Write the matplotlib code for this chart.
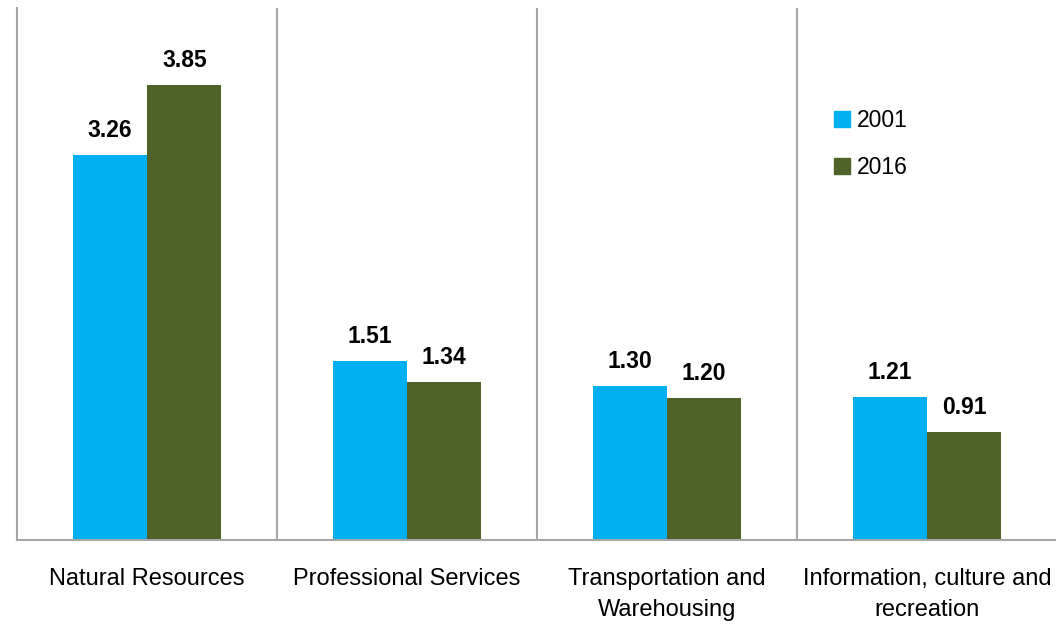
import matplotlib
matplotlib.use("Agg")
import matplotlib.pyplot as plt
from matplotlib.patches import Patch
import numpy as np

categories = ["Natural Resources", "Professional Services",
              "Transportation and\nWarehousing", "Information, culture and\nrecreation"]
series_names = ["2001", "2016"]
values_2001 = [3.26, 1.51, 1.30, 1.21]
values_2016 = [3.85, 1.34, 1.20, 0.91]
colors = ["#00B0F0", "#4F6228"]

plt.rcParams["font.family"] = ["Liberation Sans", "DejaVu Sans"]

fig = plt.figure(figsize=(10.56, 6.26), dpi=100)
ax = fig.add_axes([17 / 1056, 86 / 626, 1040 / 1056, (540 - 8) / 626])

x = np.arange(len(categories))
w = 0.2865
series = [values_2001, values_2016]
for i, (vals, col, name) in enumerate(zip(series, colors, series_names)):
    pos = x + (i - 0.5) * w
    bars = ax.bar(pos, vals, width=w, color=col, label=name, zorder=2)
    for b, v in zip(bars, vals):
        ax.annotate(f"{v:.2f}", (b.get_x() + b.get_width() / 2, v),
                    xytext=(0, 13), textcoords="offset points",
                    ha="center", va="baseline", fontsize=16.5, fontweight="bold")

ax.set_xlim(-0.5, len(categories) - 0.5)
ax.set_ylim(0, 4.5)

grid_col = "#A6A6A6"
for s in ["top", "right"]:
    ax.spines[s].set_visible(False)
for s in ["left", "bottom"]:
    ax.spines[s].set_color(grid_col)
    ax.spines[s].set_linewidth(1.5)
for k in range(1, len(categories)):
    ax.axvline(k - 0.5, color=grid_col, lw=1.5, zorder=1)

ax.set_yticks([])
ax.set_xticks(x)
ax.set_xticklabels(categories, fontsize=17, linespacing=1.55)
ax.tick_params(axis="x", length=0, pad=20)

handles = [Patch(color=c) for c in colors]
ax.legend(handles, series_names, loc="upper left", bbox_to_anchor=(0.786, 0.81),
          frameon=False, fontsize=16.5, handlelength=0.7, handleheight=0.7,
          handletextpad=0.3, labelspacing=1.05, borderpad=0, borderaxespad=0)

fig.savefig("out.png", dpi=100)
